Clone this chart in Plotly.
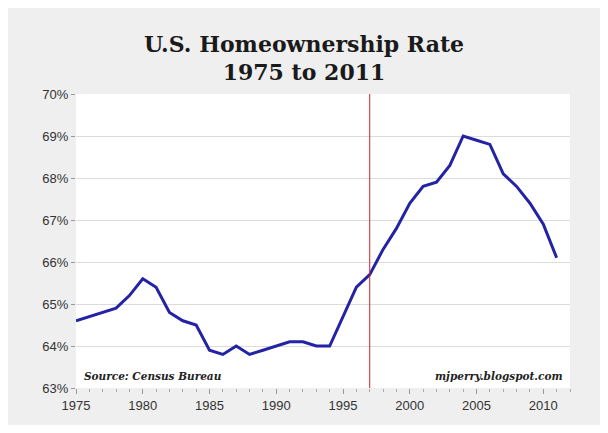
import plotly.graph_objects as go

years = list(range(1975, 2012))
rate = [
    64.6, 64.7, 64.8, 64.9, 65.2, 65.6, 65.4, 64.8, 64.6, 64.5,
    63.9, 63.8, 64.0, 63.8, 63.9, 64.0, 64.1, 64.1, 64.0, 64.0,
    64.7, 65.4, 65.7, 66.3, 66.8, 67.4, 67.8, 67.9, 68.3, 69.0,
    68.9, 68.8, 68.1, 67.8, 67.4, 66.9, 66.1,
]
marker_year = 1997
y_ticks = [63, 64, 65, 66, 67, 68, 69, 70]
y_labels = [f"{v}%" for v in y_ticks]

SERIF = "'DejaVu Serif', Georgia, serif"
SANS = "Arial, 'Liberation Sans', sans-serif"

fig = go.Figure()
fig.add_trace(go.Scatter(
    x=years,
    y=rate,
    mode="lines",
    line=dict(color="#2323a3", width=3),
    hoverinfo="x+y",
))

fig.add_shape(
    type="line", xref="x", yref="paper",
    x0=marker_year, x1=marker_year, y0=0, y1=1,
    line=dict(color="#d21f2a", width=1),
)

fig.add_annotation(
    text="<b><i>Source: Census Bureau</i></b>", xref="paper", yref="paper",
    x=0.012, y=0.015, xanchor="left", yanchor="bottom", showarrow=False,
    font=dict(family=SERIF, size=10.5, color="#222222"),
)
fig.add_annotation(
    text="<b><i>mjperry.blogspot.com</i></b>", xref="paper", yref="paper",
    x=0.99, y=0.015, xanchor="right", yanchor="bottom", showarrow=False,
    font=dict(family=SERIF, size=10.5, color="#222222"),
)

# page body has an 8px margin, which leaves the white border seen in the reference
fig.update_layout(
    width=592,
    height=417,
    title=dict(
        text="<b>U.S. Homeownership Rate<br>1975 to 2011</b>",
        x=0.5, xanchor="center", y=0.895, yanchor="top",
        font=dict(family=SERIF, size=22, color="#1a1a1a"),
    ),
    paper_bgcolor="#efefef",
    plot_bgcolor="white",
    margin=dict(l=68, r=30, t=86, b=35),
    showlegend=False,
    font=dict(family=SANS, size=13, color="#333333"),
)
fig.update_xaxes(
    range=[1975, 2012],
    tickvals=list(range(1975, 2011, 5)),
    ticks="outside", ticklen=5, tickcolor="#999999",
    minor=dict(dtick=1, ticks="outside", ticklen=3, tickcolor="#aaaaaa"),
    showgrid=False, zeroline=False, showline=False,
    tickfont=dict(family=SANS, size=13, color="#333333"),
)
fig.update_yaxes(
    range=[63, 70],
    tickvals=y_ticks, ticktext=y_labels,
    ticks="outside", ticklen=4, tickcolor="#999999",
    showgrid=True, gridcolor="#dcdcdc", gridwidth=1,
    zeroline=False, showline=False,
    tickfont=dict(family=SANS, size=13, color="#333333"),
)

fig.write_html("out.html")
